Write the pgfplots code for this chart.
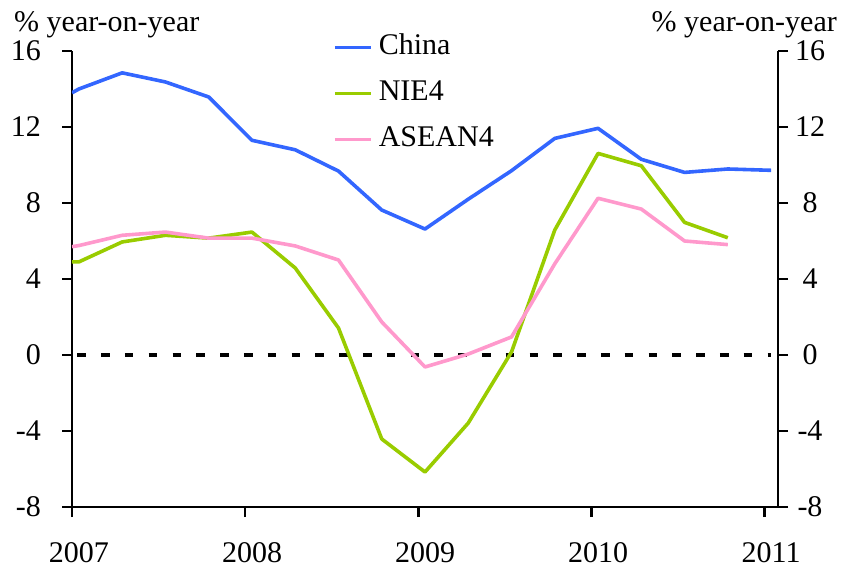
\documentclass[border=0pt]{standalone}
\usepackage{fontspec}
\setmainfont{Liberation Serif}
\usepackage{pgfplots}
\pgfplotsset{compat=1.18}
\definecolor{cnblue}{HTML}{3366FF}
\definecolor{niegreen}{HTML}{99CC00}
\definecolor{aspink}{HTML}{FF99CC}
\newcommand{\bigfont}{\fontsize{30}{35}\selectfont}

\pgfplotsset{
  base/.style={
    scale only axis, width=706pt, height=456pt,
    xmin=2007, xmax=2011.08, ymin=-8, ymax=16,
    ytick={-8,-4,...,16}, yticklabels={-8,-4,0,4,8,12,16},
    tick align=outside, major tick length=10pt,
    every tick/.style={black, line width=2.9pt},
    axis line style={line width=2.9pt},
    tick label style={font=\bigfont},
  },
}

\begin{document}
\begin{tikzpicture}
\begin{axis}[base, name=main,
    axis x line*=bottom, axis y line*=left,
    xtick={2007,2008,2009,2010,2011},
    xticklabels={2007,2008,2009,2010,2011},
    xticklabel style={anchor=north, inner sep=0pt, xshift=7pt, yshift=-25pt},
    yticklabel style={anchor=east, inner sep=0pt, xshift=-21pt},
    legend style={draw=none, fill=none, at={(0.3654,1.0423)}, anchor=north west,
      font=\bigfont, row sep=19pt, column sep=6pt,
      nodes={inner sep=0pt, text height=21pt, text depth=6pt}},
    legend cell align=left,
    legend image code/.code={\draw[#1] (0pt,0pt) -- (36pt,0pt);},
    every axis plot/.append style={line width=3.6pt, line join=round},
]
\addplot[black, line width=3.2pt, dash pattern=on 8.6pt off 15.2pt, dash phase=18.5pt, forget plot]
  coordinates {(2007,0) (2011.04,0)};
% China
\addplot[cnblue] coordinates {
  (2007,13.8) (2007.04,14.0) (2007.29,14.85) (2007.54,14.37) (2007.79,13.58)
  (2008.04,11.3) (2008.29,10.8) (2008.54,9.68) (2008.79,7.63)
  (2009.04,6.63) (2009.29,8.2) (2009.54,9.7) (2009.79,11.4)
  (2010.04,11.93) (2010.29,10.3) (2010.54,9.61) (2010.79,9.79) (2011.04,9.72)
};
% NIE4
\addplot[niegreen] coordinates {
  (2007,4.9) (2007.04,4.9) (2007.29,5.95) (2007.54,6.3) (2007.79,6.15)
  (2008.04,6.47) (2008.29,4.58) (2008.54,1.42) (2008.79,-4.42)
  (2009.04,-6.16) (2009.29,-3.58) (2009.54,0.16) (2009.79,6.58)
  (2010.04,10.61) (2010.29,9.96) (2010.54,6.98) (2010.79,6.17)
};
% ASEAN4
\addplot[aspink] coordinates {
  (2007,5.7) (2007.04,5.76) (2007.29,6.3) (2007.54,6.47) (2007.79,6.15)
  (2008.04,6.15) (2008.29,5.74) (2008.54,5.0) (2008.79,1.74)
  (2009.04,-0.63) (2009.29,0.05) (2009.54,0.95) (2009.79,4.8)
  (2010.04,8.25) (2010.29,7.68) (2010.54,6.0) (2010.79,5.81)
};
\legend{China,NIE4,ASEAN4}
\end{axis}
\begin{axis}[base,
    axis x line=none, axis y line*=right,
    yticklabel style={anchor=center, inner sep=0pt, xshift=22pt},
]
\end{axis}
\node[anchor=base west, font=\bigfont, inner sep=0pt] at ([xshift=-58pt,yshift=19pt]main.north west) {\% year-on-year};
\node[anchor=base east, font=\bigfont, inner sep=0pt] at ([xshift=59pt,yshift=19pt]main.north east) {\% year-on-year};
\pgfresetboundingbox
\path ([xshift=-72pt,yshift=-63pt]main.south west) rectangle ([xshift=65pt,yshift=51pt]main.north east);
\end{tikzpicture}
\end{document}
